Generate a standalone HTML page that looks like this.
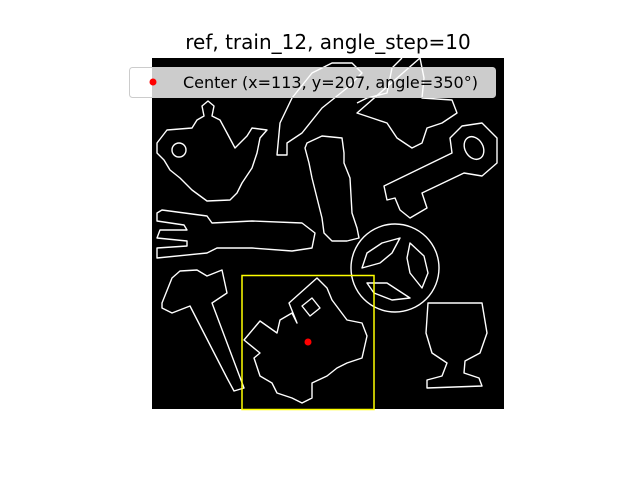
<!DOCTYPE html>
<html><head><meta charset="utf-8"><style>
body{margin:0;background:#fff;}
svg{display:block;font-family:"DejaVu Sans","Liberation Sans",sans-serif;}
</style></head><body>
<svg width="640" height="480" viewBox="0 0 640 480">
<rect width="640" height="480" fill="#fff"/>
<text x="328" y="49" font-size="20" text-anchor="middle" fill="#000">ref, train_12, angle_step=10</text>
<g transform="translate(152,58)">
<rect width="352" height="351" fill="#000"/>
<g fill="none" stroke="#fff" stroke-width="1.4" stroke-linejoin="round">
<path d="M5,85 L15,72 L40,70 L45,62 L52,58 L50,48 L56,43 L62,48 L60,58 L68,62 L75,75 L83,90 L95,78 L100,70 L115,72 L108,80 L105,95 L100,110 L90,125 L85,135 L78,142 L55,143 L40,132 L28,120 L18,112 L12,102 L5,95 Z"/>
<circle cx="27" cy="92" r="7"/>
<path d="M125,97 L128,65 L140,40 L160,15 L180,5 L200,5 L210,15 L195,30 L170,50 L150,75 L135,85 L135,97 Z"/>
<path d="M205,45 L215,40 L235,35 L240,10 L250,0 M268,0 L272,20 L270,40 L300,42 L305,55 L290,65 L275,70 L270,85 L260,90 L245,80 L235,65 L220,60 L205,55 Z"/>
<path d="M232,128 L300,95 L298,80 L310,68 L330,65 L345,80 L345,105 L330,118 L312,115 L270,135 L275,150 L258,160 L248,152 L243,140 L235,142 Z"/>
<ellipse cx="322" cy="90" rx="9" ry="12" transform="rotate(-30 322 90)"/>
<path d="M155,85 L170,78 L190,80 L192,95 L192,105 L198,120 L200,155 L205,170 L207,180 L195,183 L180,183 L172,175 L170,160 L160,120 L157,105 L153,90 Z"/>
<path d="M5,155 L10,152 L55,158 L60,165 L100,163 L150,165 L163,175 L160,190 L140,193 L100,190 L65,190 L55,195 L5,200 L5,190 L35,188 L35,183 L5,180 L8,172 L35,172 L32,167 L5,163 Z"/>
<circle cx="243" cy="210" r="44"/>
<path d="M210,210 L215,195 L230,185 L248,180 L240,195 L228,205 Z M258,185 L272,198 L276,215 L270,230 L258,215 L255,200 Z M215,225 L235,225 L258,240 L240,242 L222,235 Z"/>
<path d="M92,282 L108,263 L125,275 L128,262 L140,255 L145,265 L137,245 L165,220 L175,230 L180,242 L195,262 L210,265 L215,278 L210,300 L195,305 L185,310 L175,318 L160,325 L160,340 L150,345 L140,340 L125,335 L120,325 L108,318 L102,300 L108,295 Z"/>
<path d="M150,248 L160,240 L168,250 L158,258 Z"/>
<path d="M10,245 L20,220 L28,213 L45,212 L55,218 L70,212 L75,235 L60,245 L92,330 L82,333 L75,320 L38,248 L20,255 L10,250 Z"/>
<path d="M276,245 L330,245 L335,275 L328,295 L313,303 L312,315 L327,320 L330,328 L275,330 L275,322 L290,318 L295,305 L280,295 L274,275 Z"/>
</g>
<rect x="90" y="217.5" width="132" height="134" fill="none" stroke="#ffff00" stroke-width="1.5"/>
<circle cx="156" cy="284" r="3.5" fill="#ff0000"/>
</g>
<g>
<rect x="129.5" y="67.5" width="366" height="30" rx="3" fill="#fff" fill-opacity="0.8" stroke="#ccc"/>
<circle cx="153" cy="82" r="3.5" fill="#ff0000"/>
<text x="183" y="88" font-size="16" fill="#000">Center (x=113, y=207, angle=350°)</text>
</g>
</svg>
</body></html>
